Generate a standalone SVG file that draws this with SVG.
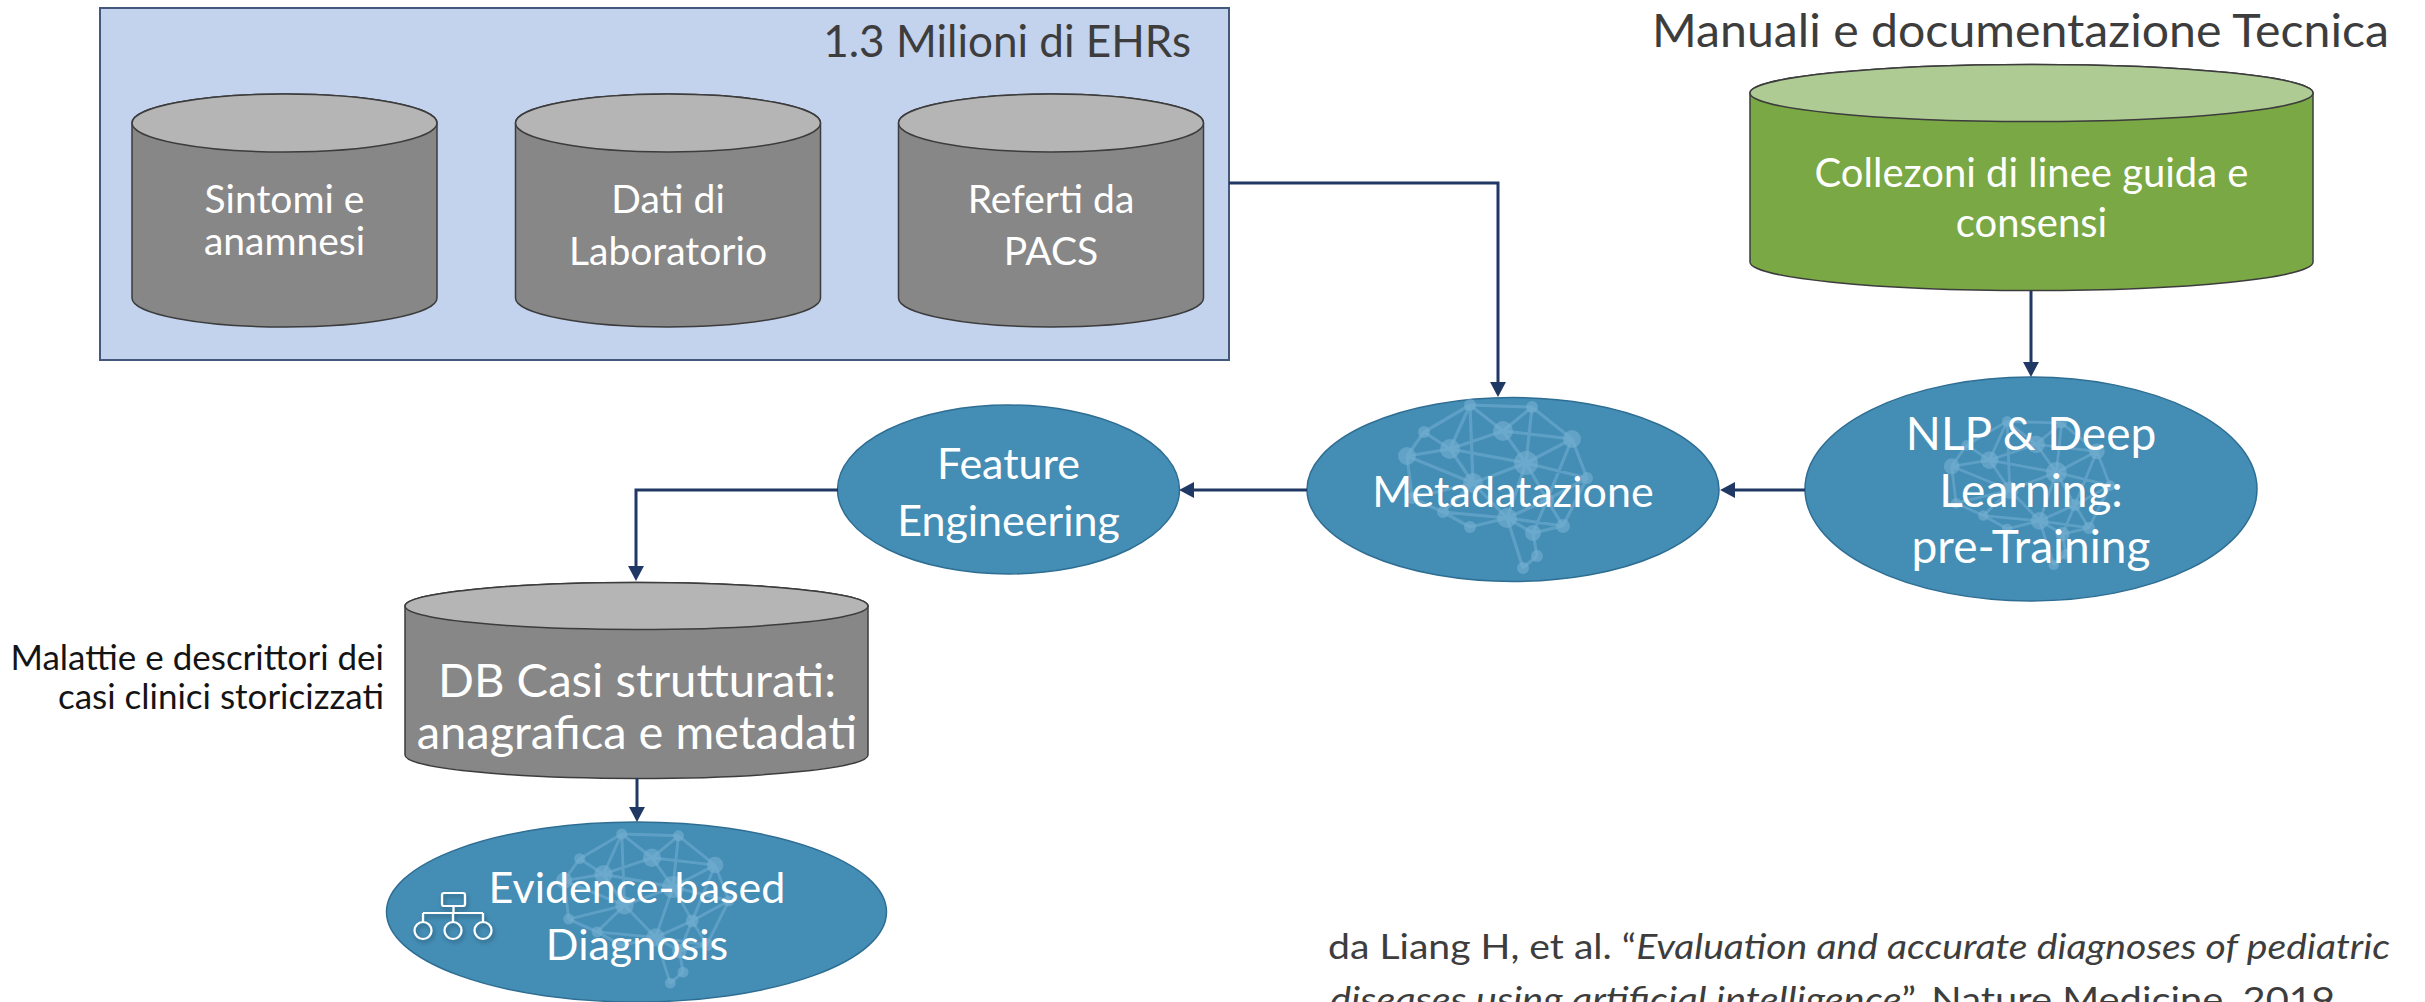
<svg xmlns="http://www.w3.org/2000/svg" width="2425" height="1002" viewBox="0 0 2425 1002">
  <defs>
    <style>
      .t{font-family:Lato,"Open Sans","DejaVu Sans",sans-serif;}
      .w{fill:#ffffff}
      .dk{fill:#3d3d3d}
      .blk{fill:#141414}
      .cbody{fill:#878787;stroke:#3c3c3c;stroke-width:1.5}
      .ctop{fill:#b5b5b5;stroke:#3c3c3c;stroke-width:1.5}
      .gbody{fill:#7aa844;stroke:#3c3c3c;stroke-width:1.5}
      .gtop{fill:#afcb94;stroke:#3c3c3c;stroke-width:1.5}
      .oval{fill:#448db5;stroke:#2f6e93;stroke-width:1.5}
      .conn{fill:none;stroke:#1f3864;stroke-width:3}
      .netl{fill:none;stroke:#75b0d2;stroke-width:3.2;stroke-opacity:0.55}
      .netn{fill:#75b0d2;fill-opacity:0.6}
      .ico{fill:none;stroke:#ffffff;stroke-width:2.2}
    </style>
    <marker id="arr" viewBox="0 0 10 10" refX="3.4" refY="5" markerWidth="15" markerHeight="16" markerUnits="userSpaceOnUse" orient="auto" preserveAspectRatio="none">
      <path d="M0,0 L10,5 L0,10 Z" fill="#1f3864"/>
    </marker>
    <filter id="shadow" x="-30%" y="-30%" width="160%" height="160%">
      <feDropShadow dx="1.5" dy="2.5" stdDeviation="2" flood-color="#000" flood-opacity="0.35"/>
    </filter>
    <!-- faint neural-network mesh drawn behind the oval labels -->
    <symbol id="net" overflow="visible">
      <path class="netl" d="M70,5 L132,7 M70,5 L24,32 M70,5 L103,31 M70,5 L50,49 M70,5 L73,83
        M132,7 L103,31 M132,7 L172,39 M132,7 L126,63
        M24,32 L50,49 M24,32 L7,56
        M103,31 L50,49 M103,31 L126,63 M103,31 L172,39
        M172,39 L126,63 M172,39 L187,78 M172,39 L147,100
        M50,49 L7,56 M50,49 L126,63 M50,49 L73,83
        M7,56 L12,98 M7,56 L73,83
        M126,63 L73,83 M126,63 L147,100 M126,63 L107,118 M126,63 L187,78
        M187,78 L147,100 M187,78 L163,126
        M73,83 L12,98 M73,83 L107,118 M73,83 L43,112
        M12,98 L43,112
        M147,100 L107,118 M147,100 L163,126 M147,100 L133,133
        M43,112 L107,118 M43,112 L70,127
        M107,118 L70,127 M107,118 L133,133 M107,118 L163,126
        M163,126 L133,133 M133,133 L137,156 M137,156 L123,168 M107,118 L123,168"/>
      <g class="netn">
        <circle cx="70" cy="5" r="6"/>
        <circle cx="132" cy="7" r="6"/>
        <circle cx="24" cy="32" r="6"/>
        <circle cx="103" cy="31" r="10"/>
        <circle cx="172" cy="39" r="9"/>
        <circle cx="50" cy="49" r="10"/>
        <circle cx="7" cy="56" r="9"/>
        <circle cx="126" cy="63" r="12"/>
        <circle cx="187" cy="78" r="6"/>
        <circle cx="73" cy="83" r="10"/>
        <circle cx="12" cy="98" r="6"/>
        <circle cx="147" cy="100" r="7"/>
        <circle cx="43" cy="112" r="6"/>
        <circle cx="107" cy="118" r="10"/>
        <circle cx="70" cy="127" r="6"/>
        <circle cx="163" cy="126" r="7"/>
        <circle cx="133" cy="133" r="8"/>
        <circle cx="137" cy="156" r="6"/>
        <circle cx="123" cy="168" r="6"/>
      </g>
    </symbol>
  </defs>

  <rect width="2425" height="1002" fill="#ffffff"/>

  <!-- EHR container with three source databases -->
  <g id="ehr-group">
    <rect x="100" y="8" width="1129" height="352" fill="#c3d2ed" stroke="#44587e" stroke-width="2"/>
    <text class="t dk" x="1191" y="57" font-size="44" text-anchor="end">1.3 Milioni di EHRs</text>
  </g>

  <g id="db-sintomi">
    <path class="cbody" d="M132,123 V298 A152.5,29 0 0 0 437,298 V123 A152.5,29 0 0 0 132,123 Z"/>
    <ellipse class="ctop" cx="284.5" cy="123" rx="152.5" ry="29"/>
    <text class="t w" x="284.5" y="213" font-size="39" text-anchor="middle">Sintomi e</text>
    <text class="t w" x="284.5" y="255" font-size="39" text-anchor="middle">anamnesi</text>
  </g>

  <g id="db-laboratorio">
    <path class="cbody" d="M515.5,123 V298 A152.5,29 0 0 0 820.5,298 V123 A152.5,29 0 0 0 515.5,123 Z"/>
    <ellipse class="ctop" cx="668" cy="123" rx="152.5" ry="29"/>
    <text class="t w" x="668" y="213" font-size="39" text-anchor="middle">Dati di</text>
    <text class="t w" x="668" y="265" font-size="39" text-anchor="middle">Laboratorio</text>
  </g>

  <g id="db-pacs">
    <path class="cbody" d="M898.5,123 V298 A152.5,29 0 0 0 1203.5,298 V123 A152.5,29 0 0 0 898.5,123 Z"/>
    <ellipse class="ctop" cx="1051" cy="123" rx="152.5" ry="29"/>
    <text class="t w" x="1051" y="213" font-size="39" text-anchor="middle">Referti da</text>
    <text class="t w" x="1051" y="265" font-size="39" text-anchor="middle">PACS</text>
  </g>

  <!-- Technical documentation source -->
  <g id="db-lineeguida">
    <text class="t dk" x="1652" y="47" font-size="47" textLength="737" lengthAdjust="spacingAndGlyphs">Manuali e documentazione Tecnica</text>
    <path class="gbody" d="M1750,93 V262 A281.5,28.5 0 0 0 2313,262 V93 A281.5,28.5 0 0 0 1750,93 Z"/>
    <ellipse class="gtop" cx="2031.5" cy="93" rx="281.5" ry="28.5"/>
    <text class="t w" x="2031.5" y="187" font-size="40" text-anchor="middle">Collezoni di linee guida e</text>
    <text class="t w" x="2031.5" y="237" font-size="40" text-anchor="middle">consensi</text>
  </g>

  <g id="nlp">
    <ellipse class="oval" cx="2031" cy="489" rx="226" ry="112"/>
    <use href="#net" transform="translate(1945.5,417) scale(0.88)"/>
    <text class="t w" x="2031" y="450" font-size="46" text-anchor="middle">NLP &amp; Deep</text>
    <text class="t w" x="2031" y="507" font-size="46" text-anchor="middle">Learning:</text>
    <text class="t w" x="2031" y="563" font-size="46" text-anchor="middle">pre-Training</text>
  </g>

  <g id="metadatazione">
    <ellipse class="oval" cx="1513" cy="489.5" rx="206" ry="92"/>
    <use href="#net" transform="translate(1400,400)"/>
    <text class="t w" x="1513" y="507" font-size="43" text-anchor="middle">Metadatazione</text>
  </g>

  <g id="feature-engineering">
    <ellipse class="oval" cx="1008.5" cy="489.5" rx="171" ry="84.5"/>
    <text class="t w" x="1008.5" y="479" font-size="43" text-anchor="middle">Feature</text>
    <text class="t w" x="1008.5" y="536" font-size="43" text-anchor="middle">Engineering</text>
  </g>

  <g id="db-casi">
    <text class="t blk" x="384" y="670" font-size="35" text-anchor="end">Malattie e descrittori dei</text>
    <text class="t blk" x="384" y="709" font-size="35" text-anchor="end">casi clinici storicizzati</text>
    <path class="cbody" d="M405,606 V755 A231.5,23.5 0 0 0 868,755 V606 A231.5,23.5 0 0 0 405,606 Z"/>
    <ellipse class="ctop" cx="636.5" cy="606" rx="231.5" ry="23.5"/>
    <text class="t w" x="637" y="697" font-size="47" text-anchor="middle" textLength="398" lengthAdjust="spacingAndGlyphs">DB Casi strutturati:</text>
    <text class="t w" x="637" y="749" font-size="47" text-anchor="middle">anagrafica e metadati</text>
  </g>

  <g id="evidence-diagnosis">
    <ellipse class="oval" cx="636.5" cy="912" rx="250" ry="90"/>
    <use href="#net" transform="translate(557.7,829.4) scale(0.915)"/>
    <g class="ico" filter="url(#shadow)">
      <rect x="442" y="893" width="23" height="13" rx="2"/>
      <path d="M453.5,906 V913 M423,913 H483 M423,913 V922 M453,913 V922 M483,913 V922"/>
      <circle cx="423" cy="930.5" r="8.5"/>
      <circle cx="453" cy="930.5" r="8.5"/>
      <circle cx="483" cy="930.5" r="8.5"/>
    </g>
    <text class="t w" x="637" y="903" font-size="43" text-anchor="middle">Evidence-based</text>
    <text class="t w" x="637" y="960" font-size="43" text-anchor="middle">Diagnosis</text>
  </g>

  <!-- connectors -->
  <g id="connectors">
    <path class="conn" marker-end="url(#arr)" d="M1229,183 H1498 V387"/>
    <path class="conn" marker-end="url(#arr)" d="M2031,291 V367"/>
    <path class="conn" marker-end="url(#arr)" d="M1805,490 H1730"/>
    <path class="conn" marker-end="url(#arr)" d="M1307,490 H1189"/>
    <path class="conn" marker-end="url(#arr)" d="M838,490 H636 V571"/>
    <path class="conn" marker-end="url(#arr)" d="M637,778 V812"/>
  </g>

  <!-- reference -->
  <g id="citation" class="t dk" font-size="34">
    <text x="1328" y="959" textLength="1062" lengthAdjust="spacingAndGlyphs">da Liang H, et al. “<tspan font-style="italic">Evaluation and accurate diagnoses of pediatric</tspan></text>
    <text x="1330" y="1012" textLength="1005" lengthAdjust="spacingAndGlyphs"><tspan font-style="italic">diseases using artificial intelligence</tspan>”. Nature Medicine, 2019</text>
  </g>
</svg>
